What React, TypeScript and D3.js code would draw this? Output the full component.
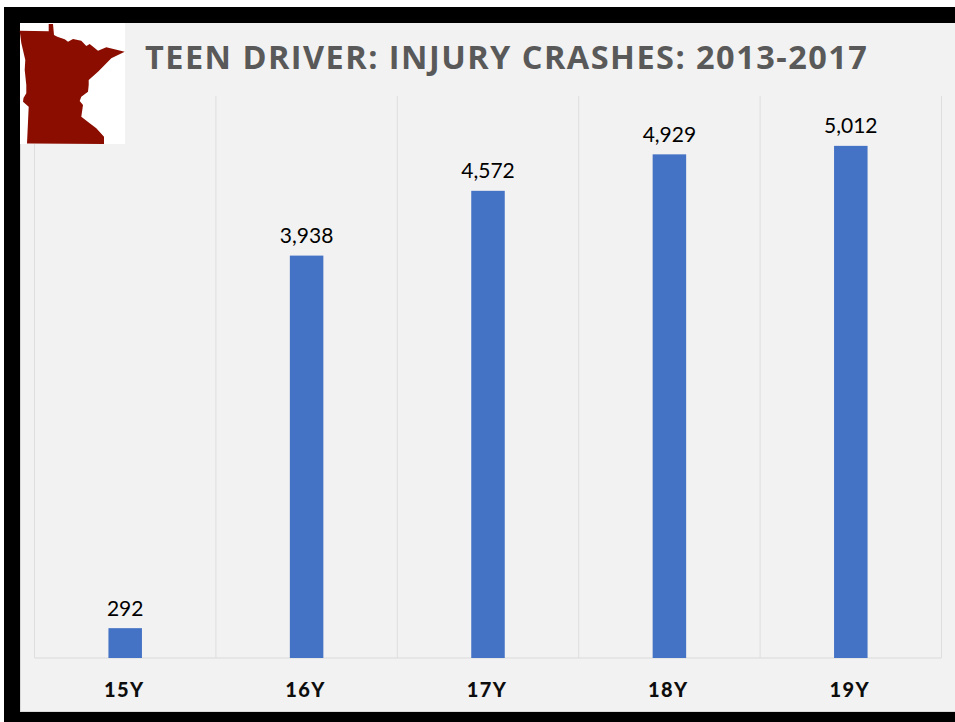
import React from "react";
import * as d3 from "d3";

const categories = ["15Y", "16Y", "17Y", "18Y", "19Y"];
const crashes = [292, 3938, 4572, 4929, 5012];
const titleText = "TEEN DRIVER: INJURY CRASHES: 2013-2017";
// Decorative logo outline (state of Minnesota), in logo pixels
const logoOutline: [number, number][] = [
  [19.7,30.7],[48.7,31.2],[48.7,24],[53,24],[54,35],[57.3,36.7],[64.7,39.3],[68,41.7],[73,39],[81.3,40.7],[86.3,46],[89.7,44],[98,50.7],[106.3,47.3],[124.7,51.7],[111.3,58.3],[98,71.7],[88.7,80],[88.7,85],[88,91.7],[81.3,96.7],[79.7,101],[83,105],[81.3,116.7],[89.7,123.3],[96.3,128.3],[104,136.7],[104,144],[27,143.5],[28.7,106.7],[23,101.7],[23.5,98],[26.3,93.3],[26.3,85],[24.7,70],[25.3,60],[21.3,43]
];

const W = 955, H = 722;
const x = d3.scaleBand<string>().domain(categories).range([34.5, 941.5]);
const y = d3.scaleLinear().domain([0, 5500]).range([658, 96]);
const fmt = d3.format(",");
const barW = 33.5;
const LABEL = "Lato, Carlito, sans-serif";

export default function App() {
  const edges = [...categories.map((c) => x(c)!), x.range()[1]];
  const logoPath = (d3.line()(logoOutline) ?? "") + "Z";
  return (
    <svg width={W} height={H} viewBox={`0 0 ${W} ${H}`} style={{ position: "fixed", left: 0, top: 0, display: "block", background: "#fff" }}>
      <rect x={4} y={7} width={W - 4} height={H - 7} fill="#000" />
      <rect x={20} y={23} width={W - 20} height={689} fill="#f2f2f2" />
      <rect x={20} y={23} width={1} height={689} fill="#d9d9d9" />
      <rect x={20} y={711} width={W - 20} height={1} fill="#d9d9d9" />
      {edges.map((e, i) => (
        <line key={i} x1={e} x2={e} y1={96} y2={658} stroke="#dedede" strokeWidth={1} />
      ))}
      <line x1={34.5} x2={941.5} y1={658} y2={658} stroke="#d9d9d9" strokeWidth={1.2} />
      {categories.map((c, i) => {
        const cx = x(c)! + x.bandwidth() / 2;
        return (
          <g key={c}>
            <rect x={cx - barW / 2} y={y(crashes[i])} width={barW} height={y(0) - y(crashes[i])} fill="#4472c4" />
            <text x={cx} y={y(crashes[i]) - 12.5} textAnchor="middle" fontFamily={LABEL} fontSize={21} fill="#000">{fmt(crashes[i])}</text>
            <text x={cx - 1} y={697} textAnchor="middle" fontFamily={LABEL} fontWeight={900} fontSize={20} letterSpacing={1.4} fill="#0d0d0d">{c}</text>
          </g>
        );
      })}
      <rect x={20} y={23} width={105} height={121} fill="#fff" />
      <path d={logoPath} fill="#8b0d00" />
      <text x={145} y={68.5} fontFamily="'Open Sans', sans-serif" fontWeight={700} fontSize={32.5} letterSpacing={1.46} fill="#595959">{titleText}</text>
    </svg>
  );
}
